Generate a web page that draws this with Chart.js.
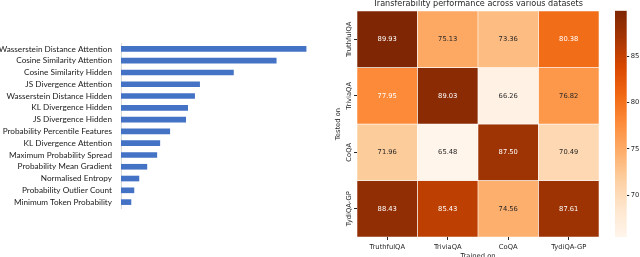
<!DOCTYPE html>
<html>
<head>
<meta charset="utf-8">
<script src="https://cdn.jsdelivr.net/npm/chart.js@4/dist/chart.umd.min.js"></script>
<style>
html, body { margin: 0; padding: 0; background: #fff; overflow: hidden; width: 640px; height: 257px; }
canvas { position: absolute; top: 0; }
#bars { left: 0; }
#heat { left: 320px; }
#cbar { left: 605px; }
</style>
</head>
<body>
<canvas id="bars" width="320" height="257"></canvas>
<canvas id="heat" width="285" height="262"></canvas>
<canvas id="cbar" width="35" height="257"></canvas>
<script>
// feature importance (left panel, no axis shown in the original)
const featureNames = [
    'Wasserstein Distance Attention', 'Cosine Similarity Attention', 'Cosine Similarity Hidden',
    'JS Divergence Attention', 'Wasserstein Distance Hidden', 'KL Divergence Hidden',
    'JS Divergence Hidden', 'Probability Percentile Features', 'KL Divergence Attention',
    'Maximum Probability Spread', 'Probability Mean Gradient', 'Normalised Entropy',
    'Probability Outlier Count', 'Minimum Token Probability'
];
const featureImportance = [0.186, 0.156, 0.113, 0.079, 0.074, 0.067, 0.065, 0.049, 0.039, 0.036, 0.026, 0.018, 0.013, 0.010];

// transferability heatmap (right panel)
const trainedOn = ['TruthfulQA', 'TriviaQA', 'CoQA', 'TydiQA-GP'];
const testedOn = ['TruthfulQA', 'TriviaQA', 'CoQA', 'TydiQA-GP'];
const scoreTruthful = [89.93, 75.13, 73.36, 80.38];
const scoreTrivia = [77.95, 89.03, 66.26, 76.82];
const scoreCoqa = [71.96, 65.48, 87.50, 70.49];
const scoreTydi = [88.43, 85.43, 74.56, 87.61];
const scoreRows = [scoreTruthful, scoreTrivia, scoreCoqa, scoreTydi];
const cbarTicks = [70, 75, 80, 85];

// matplotlib "Oranges"
const orangesStops = ['#fff5eb', '#fee6ce', '#fdd0a2', '#fdae6b', '#fd8d3c', '#f16913', '#d94801', '#a63603', '#7f2704'];

const allScores = scoreRows.flat();
const vmin = Math.min(...allScores);
const vmax = Math.max(...allScores);

const textDark = '#262626';
const tickFont = { family: 'DejaVu Sans', size: 6.75 };

function hexRgb(h) {
    return [1, 3, 5].map(i => parseInt(h.slice(i, i + 2), 16));
}
function cmapRgb(t) {
    t = Math.max(0, Math.min(1, t));
    const n = orangesStops.length - 1;
    const i = Math.min(n - 1, Math.floor(t * n));
    const f = t * n - i;
    const a = hexRgb(orangesStops[i]), b = hexRgb(orangesStops[i + 1]);
    return a.map((v, k) => Math.round(v + (b[k] - v) * f));
}
function scoreColor(v) {
    const c = cmapRgb((v - vmin) / (vmax - vmin));
    return `rgb(${c[0]},${c[1]},${c[2]})`;
}
// same rule seaborn uses to pick the annotation colour
function annotColor(v) {
    const lin = cmapRgb((v - vmin) / (vmax - vmin)).map(x => {
        x /= 255;
        return x <= 0.03928 ? x / 12.92 : Math.pow((x + 0.055) / 1.055, 2.4);
    });
    const lum = 0.2126 * lin[0] + 0.7152 * lin[1] + 0.0722 * lin[2];
    return lum > 0.408 ? textDark : '#ffffff';
}

// ---- left: horizontal bars ----
new Chart(document.getElementById('bars'), {
    type: 'bar',
    data: {
        labels: featureNames,
        datasets: [{ data: featureImportance, backgroundColor: '#4472c4', barThickness: 5 }]
    },
    options: {
        indexAxis: 'y',
        responsive: false,
        animation: false,
        layout: { padding: { top: 43, bottom: 49, left: 0, right: 0 } },
        plugins: { legend: { display: false }, tooltip: { enabled: false } },
        scales: {
            x: { display: false, min: 0, max: 0.2 },
            y: {
                afterFit: s => { s.width = 121; },
                grid: { display: false, drawTicks: false },
                border: { display: true, color: '#d9d9d9', width: 1 },
                ticks: { autoSkip: false, padding: 9, color: '#1a1a1a', font: { family: 'Lato', size: 8.2 } }
            }
        }
    }
});

// ---- right: heatmap built from floating bars ----
const heatLabels = {
    id: 'heatLabels',
    afterDatasetsDraw(chart) {
        const ctx = chart.ctx;
        ctx.save();
        ctx.font = `${tickFont.size}px ${tickFont.family}`;
        ctx.textAlign = 'center';
        ctx.textBaseline = 'middle';
        chart.data.datasets.forEach((ds, r) => {
            chart.getDatasetMeta(r).data.forEach((el, c) => {
                const v = ds.scores[c];
                ctx.fillStyle = annotColor(v);
                ctx.fillText(v.toFixed(2), el.x, (el.y + el.base) / 2);
            });
        });
        // rotated row labels
        const ys = chart.scales.y;
        ctx.fillStyle = textDark;
        testedOn.forEach((name, r) => {
            ctx.save();
            ctx.translate(29, ys.getPixelForValue(r + 0.5));
            ctx.rotate(-Math.PI / 2);
            ctx.fillText(name, 0, 0);
            ctx.restore();
        });
        ctx.restore();
    }
};

new Chart(document.getElementById('heat'), {
    type: 'bar',
    data: {
        labels: trainedOn,
        datasets: testedOn.map((name, r) => ({
            label: name,
            data: trainedOn.map(() => [r, r + 1]),
            scores: scoreRows[r],
            backgroundColor: scoreRows[r].map(scoreColor),
            borderColor: '#ffffff',
            borderWidth: 0.6,
            borderSkipped: false,
            grouped: false,
            barPercentage: 1,
            categoryPercentage: 1
        }))
    },
    options: {
        responsive: false,
        animation: false,
        layout: { padding: { top: 0, left: 0, right: 6, bottom: 0 } },
        plugins: {
            legend: { display: false },
            tooltip: { enabled: false },
            title: {
                display: true,
                fullSize: false,
                text: 'Transferability performance across various datasets',
                color: textDark,
                font: { family: 'DejaVu Sans', size: 8.1, weight: 'normal', lineHeight: 1 },
                padding: { top: 0, bottom: 3 }
            }
        },
        scales: {
            x: {
                afterFit: s => { s.height = 25; },
                grid: { offset: false, drawOnChartArea: false, drawTicks: true, tickLength: 3, color: textDark },
                border: { display: false },
                ticks: { padding: 3, maxRotation: 0, color: textDark, font: tickFont },
                title: { display: true, text: 'Trained on', color: textDark, font: tickFont, padding: { top: 0, bottom: 2 } }
            },
            y: {
                type: 'linear',
                min: 0,
                max: 4,
                reverse: true,
                afterFit: s => { s.width = 37; },
                afterBuildTicks: s => { s.ticks = testedOn.map((_, i) => ({ value: i + 0.5 })); },
                grid: { drawOnChartArea: false, drawTicks: true, tickLength: 3, color: textDark },
                border: { display: false },
                ticks: { display: false },
                title: { display: true, text: 'Tested on', color: textDark, font: tickFont, padding: { top: 14, bottom: 0 } }
            }
        }
    },
    plugins: [heatLabels]
});

// ---- colour bar ----
new Chart(document.getElementById('cbar'), {
    type: 'bar',
    data: {
        labels: [''],
        datasets: [{
            data: [[vmin, vmax]],
            backgroundColor: c => {
                const a = c.chart.chartArea;
                if (!a) return orangesStops[0];
                const g = c.chart.ctx.createLinearGradient(0, a.bottom, 0, a.top);
                orangesStops.forEach((col, i) => g.addColorStop(i / (orangesStops.length - 1), col));
                return g;
            },
            borderWidth: 0,
            barPercentage: 1,
            categoryPercentage: 1
        }]
    },
    options: {
        responsive: false,
        animation: false,
        layout: { padding: { top: 10.7, bottom: 20, left: 10, right: 0 } },
        plugins: { legend: { display: false }, tooltip: { enabled: false } },
        scales: {
            x: { display: false },
            y: {
                position: 'right',
                min: vmin,
                max: vmax,
                afterFit: s => { s.width = 13.3; },
                afterBuildTicks: s => { s.ticks = cbarTicks.map(v => ({ value: v })); },
                grid: { drawOnChartArea: false, drawTicks: true, tickLength: 2.5, color: textDark },
                border: { display: false },
                ticks: { padding: 1.5, color: textDark, font: tickFont }
            }
        }
    }
});
</script>
</body>
</html>
